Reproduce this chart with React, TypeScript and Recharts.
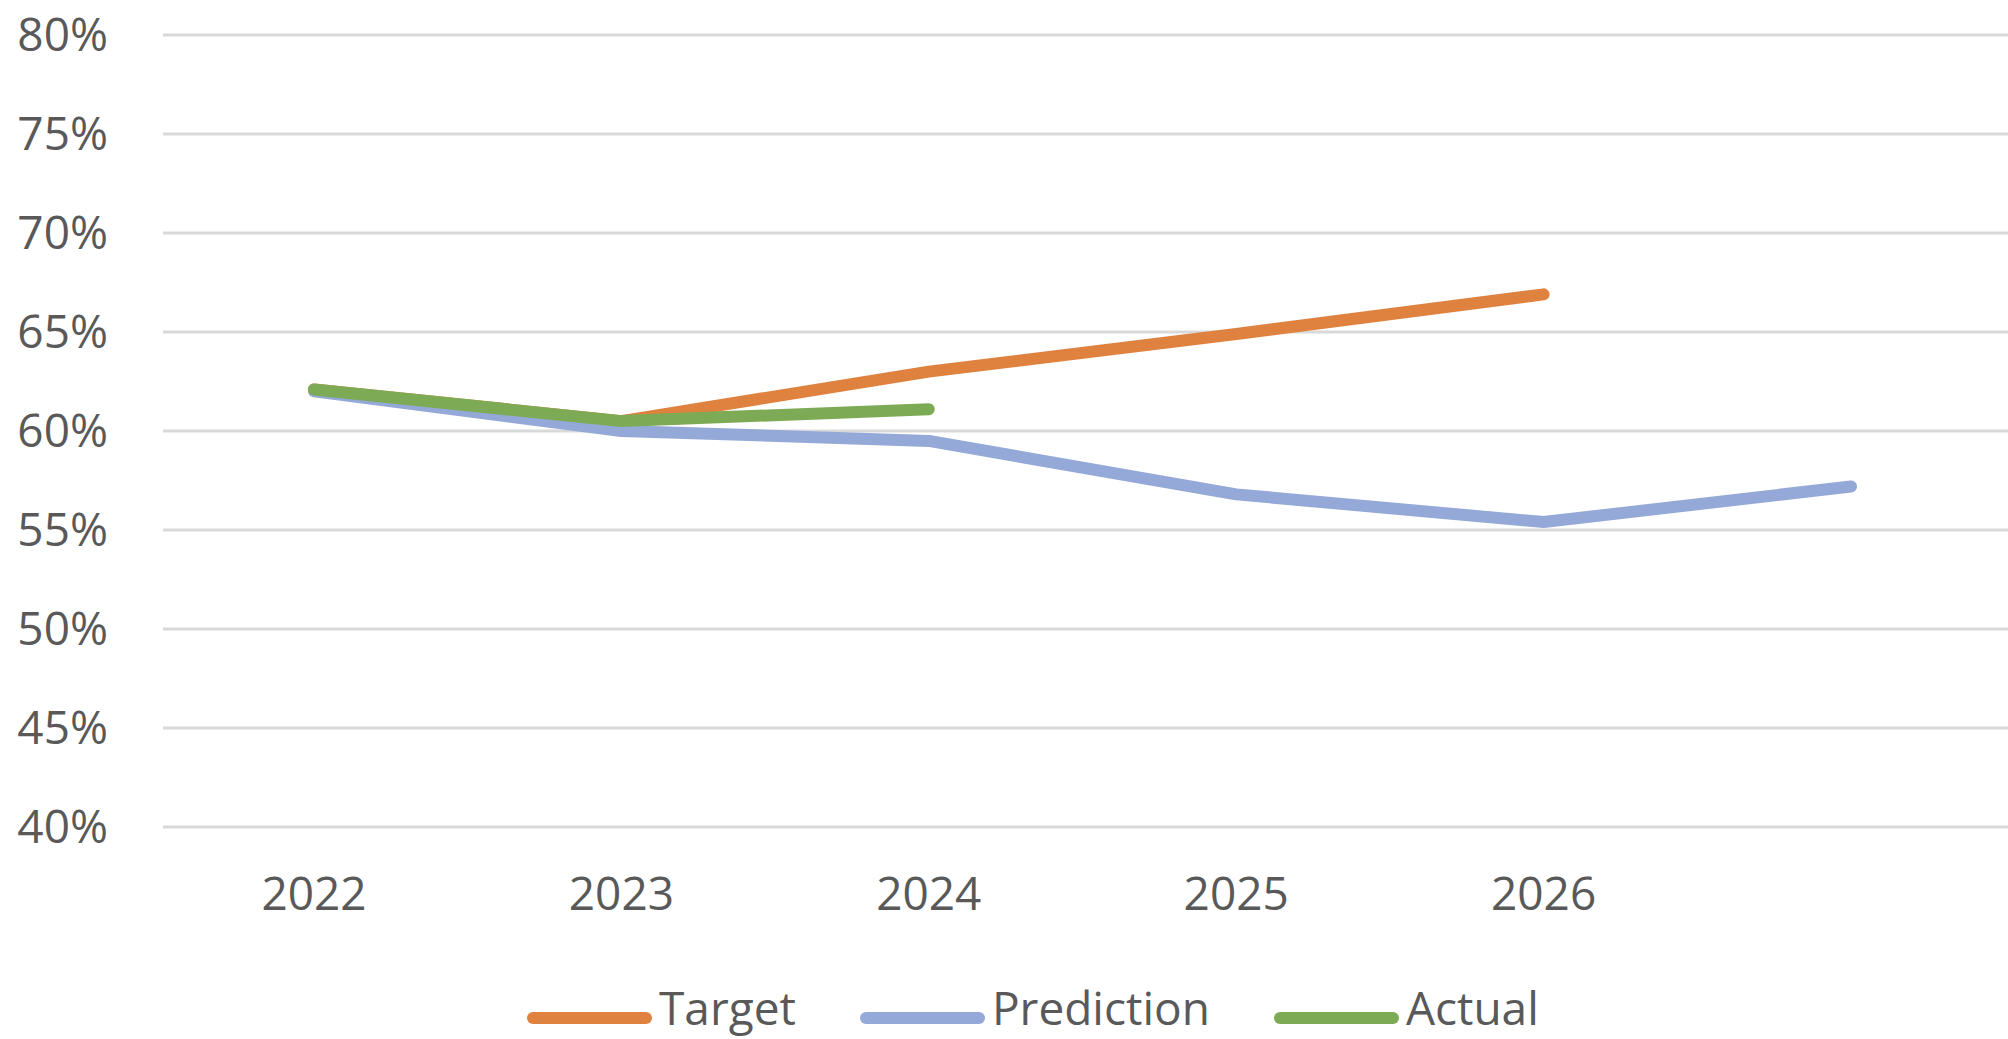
import { LineChart, Line, XAxis, YAxis, CartesianGrid, Legend } from 'recharts'

const YEARS = ['2022', '2023', '2024', '2025', '2026', '']
const TARGET = [0.621, 0.605, 0.63, 0.649, 0.669, null]
const PREDICTION = [0.62, 0.6, 0.595, 0.568, 0.554, 0.572]
const ACTUAL = [0.621, 0.605, 0.611, null, null, null]
const Y_TICKS = [0.4, 0.45, 0.5, 0.55, 0.6, 0.65, 0.7, 0.75, 0.8]

const SERIES = [
  { key: 'target', label: 'Target', color: '#E0823F' },
  { key: 'prediction', label: 'Prediction', color: '#94A9D8' },
  { key: 'actual', label: 'Actual', color: '#7DAA55' },
] as const

const DATA = YEARS.map((year, i) => ({
  year,
  target: TARGET[i],
  prediction: PREDICTION[i],
  actual: ACTUAL[i],
}))

const TEXT = '#595959'
const FONT = '"Open Sans", sans-serif'

function ChartLegend() {
  return (
    <div
      style={{
        display: 'flex',
        alignItems: 'flex-start',
        paddingLeft: 527,
        height: 46,
        fontFamily: FONT,
        fontSize: 46,
        lineHeight: '46px',
        color: TEXT,
      }}
    >
      {SERIES.map((s, i) => (
        <div
          key={s.key}
          style={{ display: 'flex', alignItems: 'flex-start', marginLeft: i === 0 ? 0 : 64 }}
        >
          <div
            style={{
              width: 125,
              height: 12,
              marginTop: 28,
              borderRadius: 6,
              background: s.color,
            }}
          />
          <span style={{ marginLeft: 7, whiteSpace: 'nowrap' }}>{s.label}</span>
        </div>
      ))}
    </div>
  )
}

export default function App() {
  return (
    <div style={{ position: 'absolute', left: 0, top: 0, width: 2008, height: 1039, background: '#fff' }}>
      <LineChart
        width={2008}
        height={1039}
        data={DATA}
        margin={{ top: 35, right: 0, bottom: 9, left: 0 }}
        style={{ fontFamily: FONT }}
      >
        <CartesianGrid vertical={false} stroke="#D9D9D9" strokeWidth={3} />
        <XAxis
          dataKey="year"
          axisLine={false}
          tickLine={false}
          tickSize={0}
          tickMargin={50}
          height={157}
          padding={{ left: 151, right: 157 }}
          interval={0}
          tick={{ fontSize: 46, fill: TEXT }}
        />
        <YAxis
          domain={[0.4, 0.8]}
          ticks={Y_TICKS}
          axisLine={false}
          tickLine={false}
          tickSize={0}
          tickMargin={55}
          width={163}
          tickFormatter={(v: number) => `${Math.round(v * 100)}%`}
          tick={{ fontSize: 46, fill: TEXT }}
        />
        <Legend verticalAlign="bottom" height={46} content={() => <ChartLegend />} />
        {SERIES.map((s) => (
          <Line
            key={s.key}
            dataKey={s.key}
            name={s.label}
            stroke={s.color}
            strokeWidth={12}
            strokeLinecap="round"
            strokeLinejoin="round"
            dot={false}
            activeDot={false}
            isAnimationActive={false}
          />
        ))}
      </LineChart>
    </div>
  )
}
